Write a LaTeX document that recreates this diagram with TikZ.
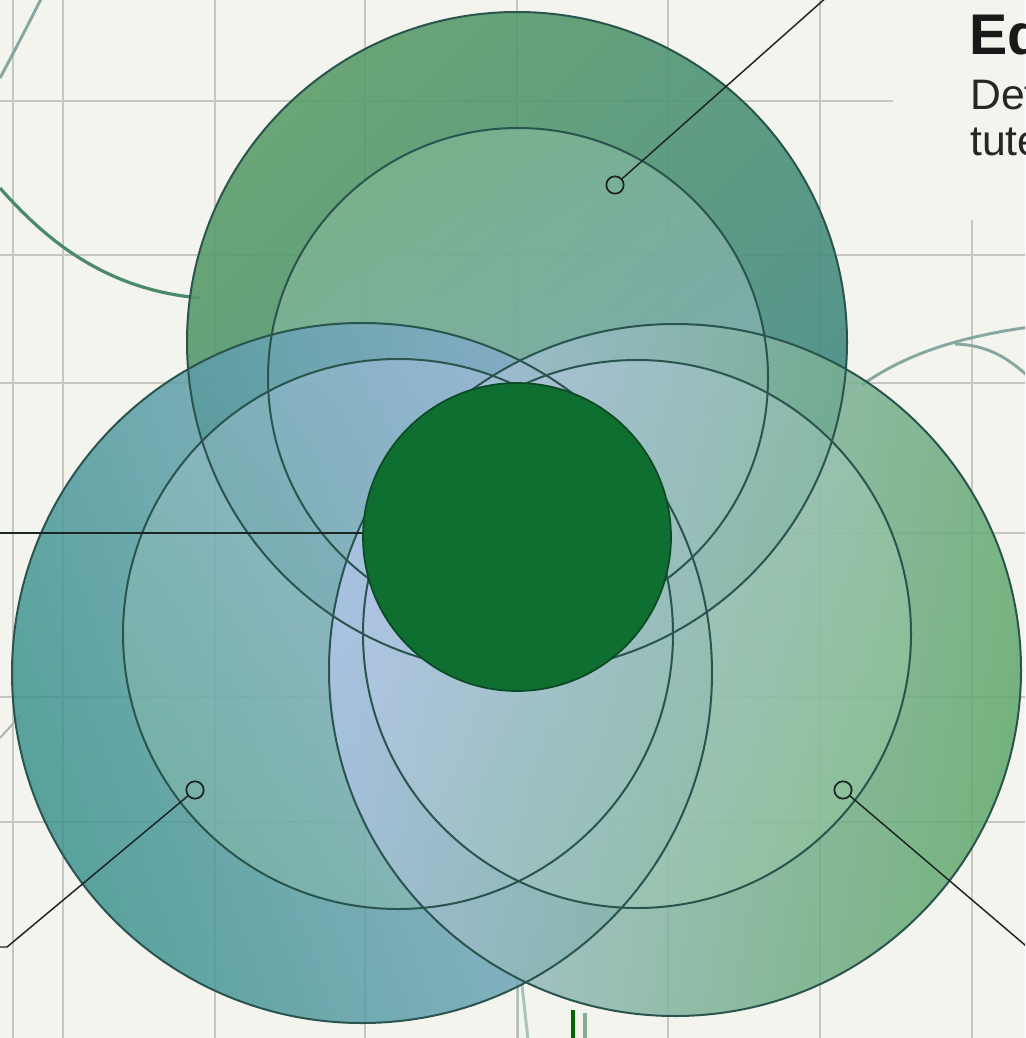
\documentclass[tikz,border=0pt]{standalone}
\usepackage{fontspec}
\setmainfont{Liberation Sans}
\definecolor{bgc}{HTML}{F4F4EF}
\definecolor{gridc}{HTML}{C6C7C2}
\definecolor{ringline}{HTML}{2A544E}
\definecolor{connc}{HTML}{1B2624}
\definecolor{coregreen}{HTML}{0E6F30}
\definecolor{coreline}{HTML}{0B4A24}
\definecolor{vinegreen}{HTML}{4A8A66}
\definecolor{vinegray}{HTML}{86A8A0}
\begin{document}
\begin{tikzpicture}[x=0.75pt,y=-0.75pt,
  gridline/.style={draw=gridc,line width=1.5pt},
  vine/.style={draw=vinegray,line width=2.2pt},
  ringedge/.style={draw=ringline,line width=1.5pt},
  marker/.style={circle,draw=connc,line width=1.3pt,inner sep=0pt,minimum size=13pt},
  conn/.style={draw=connc,line width=1.1pt},
  titletext/.style={inner sep=0pt,anchor=base west,font=\bfseries\fontsize{43}{46}\selectfont,text=black!90},
  subtext/.style={inner sep=0pt,anchor=base west,font=\fontsize{32}{35}\selectfont,text=black!85}]
\useasboundingbox (0,0) rectangle (1025,1038);
\clip (0,0) rectangle (1025,1038);
\fill[bgc] (0,0) rectangle (1025,1038);
% grid
\foreach \gx in {13,63,215,365,517,668,820} \draw[gridline] (\gx,0) -- (\gx,1038);
\draw[gridline] (972,220) -- (972,1038);
\draw[gridline] (0,101) -- (893,101);
\foreach \gy in {255,383,533,697,822} \draw[gridline] (0,\gy) -- (1025,\gy);
% background vines
\draw[vine] (0,78) .. controls (15,50) and (28,25) .. (42,-3);
\draw[draw=vinegreen,line width=2.4pt] (0,188) .. controls (50,245) and (110,290) .. (200,298);
\draw[vine] (862,385) .. controls (900,358) and (950,338) .. (1030,327);
\draw[vine] (955,344) .. controls (985,345) and (1005,355) .. (1030,378);
\draw[draw=gray!60,line width=1.5pt] (0,738) -- (20,716);
\draw[draw=vinegray!70,line width=2.2pt] (518,985) -- (518,1040);
\draw[draw=vinegray!70,line width=2.2pt] (522,985) -- (528,1040);
\draw[draw=green!40!black,line width=2.4pt] (573,1010) -- (573,1040);
\draw[draw=vinegreen!70,line width=2.4pt] (585,1013) -- (585,1040);
% circle fills
\shade[top color={rgb,255:red,90;green,157;blue,104},bottom color={rgb,255:red,66;green,136;blue,134},shading angle=45,fill opacity=0.9]
  (517,342) circle[radius=330];
\shade[top color={rgb,255:red,138;green,190;blue,156},bottom color={rgb,255:red,160;green,190;blue,216},shading angle=30,fill opacity=0.55]
  (518,378) circle[radius=250];
\shade[top color={rgb,255:red,54;green,144;blue,138},bottom color={rgb,255:red,146;green,176;blue,214},shading angle=110,fill opacity=0.82]
  (362,673) circle[radius=350];
\shade[top color={rgb,255:red,172;green,194;blue,230},bottom color={rgb,255:red,134;green,188;blue,168},shading angle=-40,fill opacity=0.5]
  (398,634) circle[radius=275];
\shade[top color={rgb,255:red,176;green,196;blue,232},bottom color={rgb,255:red,94;green,166;blue,104},shading angle=80,fill opacity=0.84]
  (675,670) circle[radius=346];
\shade[top color={rgb,255:red,184;green,200;blue,236},bottom color={rgb,255:red,150;green,200;blue,160},shading angle=60,fill opacity=0.5]
  (637,634) circle[radius=274];
% outlines
\draw[ringedge] (517,342) circle[radius=330];
\draw[ringedge] (518,378) circle[radius=250];
\draw[ringedge] (362,673) circle[radius=350];
\draw[ringedge] (398,634) circle[radius=275];
\draw[ringedge] (675,670) circle[radius=346];
\draw[ringedge] (637,634) circle[radius=274];
% core
\node[circle,fill=coregreen,draw=coreline,line width=1.3pt,minimum size=231pt,inner sep=0pt] (core) at (517,537) {};
% connectors and markers
\node[marker] (mtop) at (615,185) {};
\node[marker] (mleft) at (195,790) {};
\node[marker] (mright) at (843,790) {};
\coordinate (etop) at (828,-4);
\coordinate (ecore) at (-2,533);
\coordinate (bendl) at (7,947);
\coordinate (eleft) at (-2,947);
\coordinate (eright) at (1032,951);
\draw[conn] (mtop) -- (etop);
\draw[conn] (ecore) -- (ecore -| core.west);
\draw[conn] (mleft) -- (bendl) -- (eleft);
\draw[conn] (mright) -- (eright);
% text
\node[titletext] (title) at (969,55) {Ed};
\node[subtext] (sub1) at (970,110) {Det};
\node[subtext] (sub2) at (970,156) {tute};
\end{tikzpicture}
\end{document}
